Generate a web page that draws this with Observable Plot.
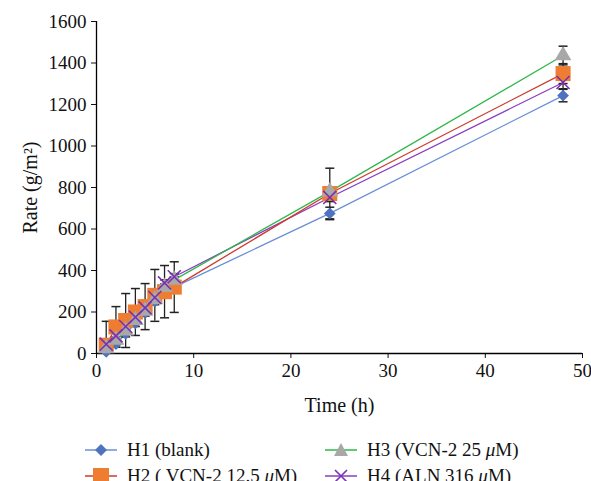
<!DOCTYPE html>
<html>
<head>
<meta charset="utf-8">
<script src="https://cdn.jsdelivr.net/npm/d3@7"></script>
<script src="https://cdn.jsdelivr.net/npm/@observablehq/plot@0.6"></script>
<style>
  body { margin: 0; background: #fff; font-family: "Liberation Serif", "DejaVu Serif", serif; overflow: hidden; }
  #chart svg { overflow: visible; }
  #chart svg text { font-family: "Liberation Serif", "DejaVu Serif", serif; fill: #111; }
  #chart svg g[aria-label$="tick label"] text { font-size: 19px; }
  #chart svg g[aria-label$="axis label"] text { font-size: 20px; }
  .legend { position: absolute; left: 0; top: 439px; width: 591px; font-size: 19px; color: #111; }
  .item { position: absolute; display: flex; align-items: center; white-space: nowrap; height: 22px; }
  .item svg { margin-right: 10px; }
</style>
</head>
<body>
<div id="chart"></div>
<div class="legend" id="legend"></div>
<script>
const times = [1, 2, 3, 4, 5, 6, 7, 8, 24, 48];
const seriesNames = ["H1 (blank)", "H2 ( VCN-2 12.5 \u03bcM)", "H3 (VCN-2 25 \u03bcM)", "H4 (ALN 316 \u03bcM)"];
const h1 = [8, 45, 95, 145, 195, 250, 290, 320, 675, 1243];
const h2 = [40, 128, 159, 200, 226, 280, 298, 320, 771, 1349];
const h3 = [25, 65, 110, 160, 205, 260, 320, 355, 780, 1436];
const h4 = [45, 85, 130, 175, 220, 270, 340, 370, 752, 1306];
const h1Err = [15, 15, 15, 15, 15, 15, 15, 15, 30, 30];
const h2Err = [115, 98, 130, 113, 111, 125, 126, 122, 122, 48];
const h3Err = [15, 15, 15, 15, 15, 15, 15, 15, 20, 45];
const h4Err = [15, 15, 15, 15, 15, 15, 15, 15, 20, 30];
const yTicks = [0, 200, 400, 600, 800, 1000, 1200, 1400, 1600];
const xTicks = [0, 10, 20, 30, 40, 50];

const lineColors = ["#6a8fd4", "#cc3b2c", "#2db84a", "#8a3cc4"];
const markFill = ["#4f72be", "#ee7d31", "#a8a8a8", "none"];
const markStroke = ["#4f72be", "#ee7d31", "#a8a8a8", "#7a30b0"];
const symbols = ["diamond2", "square", "triangle", "times"];
const radii = [5.3, 8.5, 6.2, 6];

const allVals = [h1, h2, h3, h4];
const allErr = [h1Err, h2Err, h3Err, h4Err];
const rows = [];
allVals.forEach((vals, s) => {
  vals.forEach((v, i) => rows.push({series: s, t: times[i], v, lo: v - allErr[s][i], hi: v + allErr[s][i]}));
});

const cap = { draw(ctx, size) { const w = 4.5; ctx.moveTo(-w, 0); ctx.lineTo(w, 0); } };

const marks = [
  Plot.axisY({ticks: yTicks, tickSize: 5, tickPadding: 5, tickFormat: d => String(d), label: "Rate (g/m²)", labelAnchor: "center", labelArrow: "none", labelOffset: 74}),
  Plot.axisX({ticks: xTicks, tickSize: 5, tickPadding: 5, tickFormat: d => String(d), label: "Time (h)", labelAnchor: "center", labelArrow: "none", labelOffset: 58}),
  Plot.ruleY([0], {stroke: "#000", strokeWidth: 1.3}),
  Plot.ruleX([0], {stroke: "#000", strokeWidth: 1.3}),
];
[3, 0, 1, 2].forEach(s => {
  marks.push(Plot.line(rows.filter(d => d.series === s), {x: "t", y: "v", stroke: lineColors[s], strokeWidth: 1.3}));
});
[0, 1, 2, 3].forEach(s => {
  const d = rows.filter(r => r.series === s);
  marks.push(Plot.ruleX(d, {x: "t", y1: "lo", y2: "hi", stroke: "#222", strokeWidth: 1.3, clip: true}));
  marks.push(Plot.dot(d, {x: "t", y: "hi", symbol: cap, r: 3, stroke: "#222", strokeWidth: 1.5, clip: true}));
  marks.push(Plot.dot(d.filter(r => r.lo > 0), {x: "t", y: "lo", symbol: cap, r: 3, stroke: "#222", strokeWidth: 1.5}));
});
[0, 1, 2, 3].forEach(s => {
  const d = rows.filter(r => r.series === s);
  marks.push(Plot.dot(d, {x: "t", y: "v", symbol: symbols[s], r: radii[s], fill: markFill[s], stroke: markStroke[s], strokeWidth: s === 3 ? 1.6 : 0, fillOpacity: 1}));
});

const chart = Plot.plot({
  width: 591,
  height: 425,
  marginTop: 21,
  marginBottom: 72,
  marginLeft: 96,
  marginRight: 9,
  style: {fontFamily: "'Liberation Serif', 'DejaVu Serif', serif", fontSize: "19px", color: "#111", background: "#fff"},
  x: {domain: [0, 50]},
  y: {domain: [0, 1600]},
  marks
});
document.getElementById("chart").appendChild(chart);

// Legend
const legend = document.getElementById("legend");
const pos = [[85, 0], [85, 26], [325, 0], [325, 26]];
const shapes = [
  '<path d="M16,4 L22,10 L16,16 L10,10 Z" fill="#4f72be"/>',
  '<rect x="8" y="2" width="16" height="16" fill="#ee7d31"/>',
  '<path d="M16,3 L23,16 L9,16 Z" fill="#a8a8a8"/>',
  '<path d="M10,4 L22,16 M22,4 L10,16" stroke="#7a30b0" stroke-width="1.6"/>'
];
seriesNames.forEach((name, s) => {
  const el = document.createElement("div");
  el.className = "item";
  el.style.left = pos[s][0] + "px";
  el.style.top = pos[s][1] + "px";
  el.innerHTML = `<svg width="32" height="20"><line x1="0" y1="10" x2="32" y2="10" stroke="${lineColors[s]}" stroke-width="1.5"/>${shapes[s]}</svg><span>${name.replace(/\u03bc/g, '<i>\u03bc</i>')}</span>`;
  legend.appendChild(el);
});
</script>
</body>
</html>
